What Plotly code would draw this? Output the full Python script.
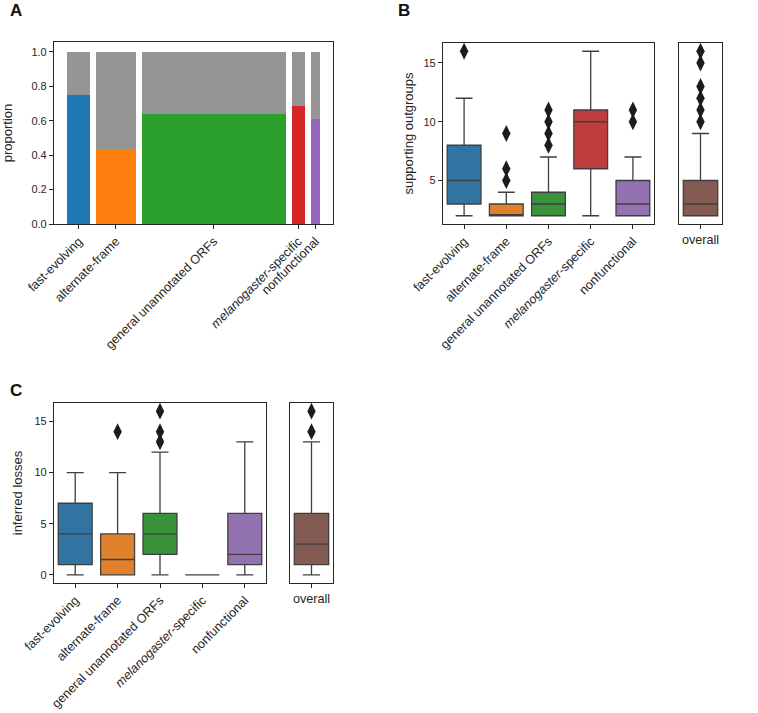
import plotly.graph_objects as go

# ---------------- data ----------------
categories = ["fast-evolving", "alternate-frame", "general unannotated ORFs",
              "melanogaster-specific", "nonfunctional"]
tick_labels = ["fast-evolving", "alternate-frame", "general unannotated ORFs",
               "<i>melanogaster</i>-specific", "nonfunctional"]

# Panel A (mosaic): group sizes (bar widths) and proportion
group_counts = [46, 78, 286, 26, 18]
proportion = [0.75, 0.435, 0.637, 0.685, 0.61]

# Panel B: supporting outgroups (box stats)
b_low = [2, 2, 2, 2, 2]
b_q1 = [3, 2, 2, 6, 2]
b_med = [5, 2, 3, 10, 3]
b_q3 = [8, 3, 4, 11, 5]
b_high = [12, 4, 7, 16, 7]
b_out = [[16], [5, 6, 9], [8, 9, 10, 11], [], [10, 11]]
b_overall = dict(low=2, q1=2, med=3, q3=5, high=9, out=[10, 11, 12, 13, 15, 16])

# Panel C: inferred losses (box stats)
c_low = [0, 0, 0, 0, 0]
c_q1 = [1, 0, 2, 0, 1]
c_med = [4, 1.5, 4, 0, 2]
c_q3 = [7, 4, 6, 0, 6]
c_high = [10, 10, 12, 0, 13]
c_out = [[], [14], [13, 14, 16], [], []]
c_overall = dict(low=0, q1=1, med=3, q3=6, high=13, out=[14, 16])

# ---------------- style ----------------
mosaic_colors = ["#1f77b4", "#ff7f0e", "#2ca02c", "#d62728", "#9467bd"]
box_colors = ["#3274a1", "#e1812c", "#3a923a", "#c03d3e", "#9372b2"]
overall_color = "#845b53"
gray = "#959595"
edge = "#3f3f3f"
txt = "#262626"
FONT = "Liberation Sans, Arial, sans-serif"
FS_NUM = 11
FS_CAT = 12.6
FS_TITLE = 13

W, H = 758, 713


def dx(a, b):
    return [a / W, b / W]


def dy(top, bottom):
    return [1 - bottom / H, 1 - top / H]


fig = go.Figure()

# ---------------- Panel A ----------------
gap = 12
margin = 26
lefts = []
pos = 0
for c in group_counts:
    lefts.append(pos)
    pos += c + gap
total_end = pos - gap
centers = [l + c / 2 for l, c in zip(lefts, group_counts)]

fig.add_trace(go.Bar(x=centers, y=proportion, width=group_counts,
                     marker=dict(color=mosaic_colors, line=dict(width=0)),
                     xaxis="x", yaxis="y", showlegend=False, hoverinfo="skip"))
fig.add_trace(go.Bar(x=centers, y=[1 - p for p in proportion], base=proportion,
                     width=group_counts,
                     marker=dict(color=gray, line=dict(width=0)),
                     xaxis="x", yaxis="y", showlegend=False, hoverinfo="skip"))


def add_boxes(xa, ya, low, q1, med, q3, high, outs, colors, cats):
    for i, cat in enumerate(cats):
        fig.add_trace(go.Box(x=[cat], q1=[q1[i]], median=[med[i]], q3=[q3[i]],
                             lowerfence=[low[i]], upperfence=[high[i]],
                             width=0.8, whiskerwidth=0.5,
                             fillcolor=colors[i], line=dict(color=edge, width=1.3),
                             boxpoints=False, xaxis=xa, yaxis=ya,
                             showlegend=False, hoverinfo="skip"))
        if outs[i]:
            fig.add_trace(go.Scatter(x=[cat] * len(outs[i]), y=outs[i], mode="markers",
                                     marker=dict(symbol="diamond-tall", size=12,
                                                 color="#1c1c1c"),
                                     xaxis=xa, yaxis=ya, showlegend=False,
                                     hoverinfo="skip"))


# ---------------- Panel B ----------------
add_boxes("x2", "y2", b_low, b_q1, b_med, b_q3, b_high, b_out, box_colors, categories)
add_boxes("x3", "y3", [b_overall["low"]], [b_overall["q1"]], [b_overall["med"]],
          [b_overall["q3"]], [b_overall["high"]], [b_overall["out"]],
          [overall_color], ["overall"])

# ---------------- Panel C ----------------
add_boxes("x4", "y4", c_low, c_q1, c_med, c_q3, c_high, c_out, box_colors, categories)
add_boxes("x5", "y5", [c_overall["low"]], [c_overall["q1"]], [c_overall["med"]],
          [c_overall["q3"]], [c_overall["high"]], [c_overall["out"]],
          [overall_color], ["overall"])

axis_common = dict(showline=True, linecolor="#262626", linewidth=1.2, mirror=True,
                   ticks="outside", ticklen=4, tickwidth=1.1, tickcolor="#262626",
                   showgrid=False, zeroline=False, automargin=False,
                   tickfont=dict(family=FONT, size=FS_NUM, color=txt))
cat_font = dict(family=FONT, size=FS_CAT, color=txt)
title_font = dict(family=FONT, size=FS_TITLE, color=txt)

fig.update_layout(
    width=W, height=H, margin=dict(l=0, r=0, t=0, b=0, autoexpand=False),
    paper_bgcolor="white", plot_bgcolor="white",
    barmode="overlay", boxmode="overlay", bargap=0,
    font=dict(family=FONT, size=FS_NUM, color=txt),
    xaxis=dict(axis_common, domain=dx(54, 333), range=[-margin, total_end + margin],
               tickmode="array", tickvals=centers, ticktext=tick_labels, tickangle=-45,
               tickfont=cat_font),
    yaxis=dict(axis_common, domain=dy(42, 224), range=[0, 1.058],
               tickvals=[0, 0.2, 0.4, 0.6, 0.8, 1.0], tickformat=".1f",
               title=dict(text="proportion", font=title_font, standoff=15)),
    xaxis2=dict(axis_common, domain=dx(443, 654), anchor="y2", type="category",
                categoryorder="array", categoryarray=categories, range=[-0.5, 4.5],
                tickmode="array", tickvals=categories, ticktext=tick_labels, tickangle=-45,
                tickfont=cat_font),
    yaxis2=dict(axis_common, domain=dy(43, 224), anchor="x2", range=[1.3, 16.7],
                tickvals=[5, 10, 15],
                title=dict(text="supporting outgroups", font=title_font, standoff=6)),
    xaxis3=dict(axis_common, domain=dx(679, 722), anchor="y3", type="category",
                range=[-0.5, 0.5], tickfont=cat_font),
    yaxis3=dict(axis_common, domain=dy(43, 224), anchor="x3", range=[1.3, 16.7],
                ticks="", showticklabels=False),
    xaxis4=dict(axis_common, domain=dx(54, 266), anchor="y4", type="category",
                categoryorder="array", categoryarray=categories, range=[-0.5, 4.5],
                tickmode="array", tickvals=categories, ticktext=tick_labels, tickangle=-45,
                tickfont=cat_font),
    yaxis4=dict(axis_common, domain=dy(403, 583), anchor="x4", range=[-0.8, 16.8],
                tickvals=[0, 5, 10, 15],
                title=dict(text="inferred losses", font=title_font, standoff=8)),
    xaxis5=dict(axis_common, domain=dx(290, 333), anchor="y5", type="category",
                range=[-0.5, 0.5], tickfont=cat_font),
    yaxis5=dict(axis_common, domain=dy(403, 583), anchor="x5", range=[-0.8, 16.8],
                ticks="", showticklabels=False),
)

for label, xp, yp in [("A", 16, 10), ("B", 404, 10), ("C", 16, 390)]:
    fig.add_annotation(text=f"<b>{label}</b>", x=xp / W, y=1 - yp / H,
                       xref="paper", yref="paper", showarrow=False,
                       xanchor="center", yanchor="middle",
                       font=dict(family=FONT, size=17, color="#111111"))

# remove the browser's default 8px page margin so the figure fills the window
fig.write_html("out.html",
               config={"displayModeBar": False},
               post_script="document.body.style.margin='0';"
                           "document.body.style.overflow='hidden';")
